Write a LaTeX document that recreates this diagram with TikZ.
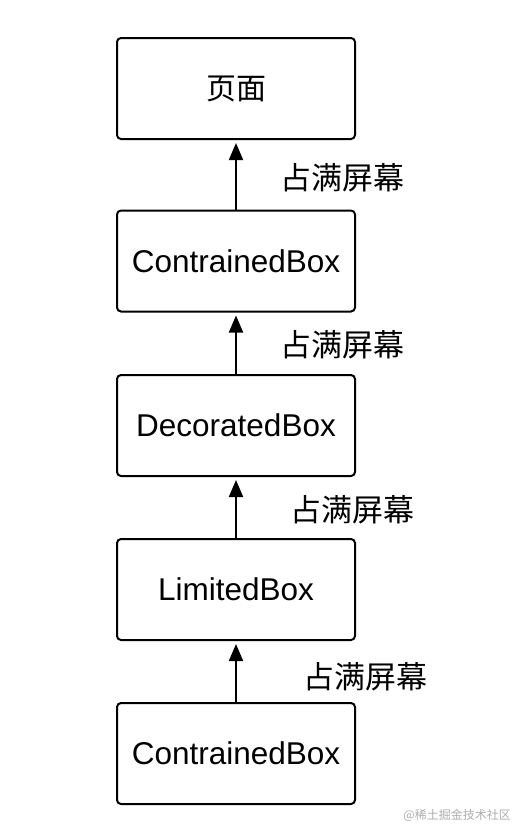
\documentclass[tikz,border=0pt]{standalone}
\usepackage{fontspec}
\setmainfont{Liberation Sans}
\newfontfamily\cjk{Noto Sans CJK SC}
\usetikzlibrary{arrows.meta}
\begin{document}
\begin{tikzpicture}[x=1pt,y=-1pt,
  box/.style={draw,line width=2pt,rounded corners=4pt,minimum width=238pt,minimum height=101pt,inner sep=0pt,font=\fontsize{31.5}{36}\selectfont},
  lbl/.style={anchor=west,inner sep=0pt,font=\cjk\fontsize{31}{36}\selectfont},
  up/.style={line width=2pt,-{Triangle[length=17pt,width=14pt]},shorten >=3pt}]
\useasboundingbox (0,0) rectangle (528,838);
\node[box] (page) at (236,88.5) {\cjk\fontsize{30}{36}\selectfont 页面};
\node[box] (cb1) at (236,261) {ContrainedBox};
\node[box] (deco) at (236,425.5) {DecoratedBox};
\node[box] (lim) at (236,589.5) {LimitedBox};
\node[box] (cb2) at (236,753.5) {ContrainedBox};
\foreach \a/\b in {cb1/page,deco/cb1,lim/deco,cb2/lim}{
\draw[up] (\a) -- (\b);}
\node[lbl] (fill1) at (280,178) {占满屏幕};
\node[lbl] (fill2) at (280,345) {占满屏幕};
\node[lbl] (fill3) at (290,510) {占满屏幕};
\node[lbl] (fill4) at (303,677) {占满屏幕};
\node[text=black!32,anchor=east,inner sep=0pt,font=\cjk\fontsize{12}{14}\selectfont] (mark) at (511,815) {@稀土掘金技术社区};
\end{tikzpicture}
\end{document}
